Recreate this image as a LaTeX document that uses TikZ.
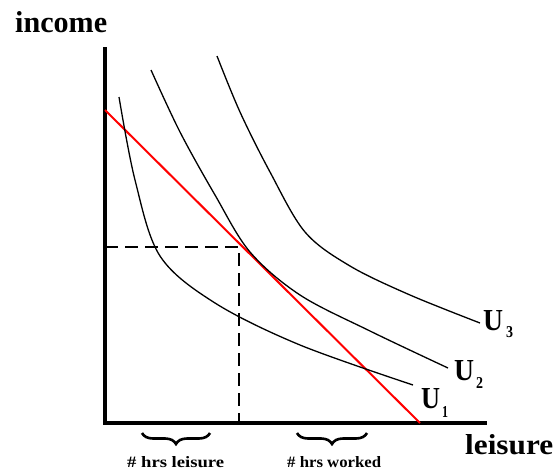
\documentclass[tikz,border=0pt]{standalone}
\usepackage{fontspec}
\setmainfont{Liberation Serif}
\usepackage{graphicx}
\usetikzlibrary{decorations.pathreplacing}
\tikzset{
  axisline/.style={line width=3.5pt, line join=miter},
  budget/.style={draw=red, line width=2pt},
  guide/.style={line width=1.4pt, dash pattern=on 13pt off 7pt},
  icurve/.style={line width=1.3pt, smooth, tension=0.55},
  lbl/.style={inner sep=0pt, anchor=base west},
  bracebox/.style={line width=2.6pt, decorate, decoration={brace, mirror, amplitude=11pt}}
}
\begin{document}
\begin{tikzpicture}[x=1pt, y=-1pt]
\useasboundingbox (0,0) rectangle (557,471);
% axes
\coordinate (top) at (105,47);
\coordinate (origin) at (105,423);
\coordinate (right) at (487,423);
\draw[axisline] (top) -- (origin) -- (right);
% budget line
\coordinate (b0) at (105,110);
\coordinate (b1) at (420,423);
\draw[budget] (b0) -- (b1);
% dashed guides
\coordinate (ey) at (105,247);
\coordinate (eq) at (239,247);
\coordinate (ex) at (239,423);
\draw[guide] (ey) -- (eq) -- (ex);
% indifference curves
\draw[icurve] plot coordinates {(119,97) (135,180) (160,256) (215,303) (300,345) (413,385)};
\draw[icurve] plot coordinates {(151,70) (180,132) (215,195) (250,252) (300,295) (370,331) (448,368)};
\draw[icurve] plot coordinates {(217,56) (240,112) (270,172) (305,232) (350,266) (410,295) (480,323)};
% labels
\node[lbl] (income) at (15,33) {\resizebox{92pt}{21pt}{\bfseries income}};
\node[lbl] (leisure) at (465,454) {\resizebox{88pt}{20pt}{\bfseries leisure}};
\node[lbl] (u3) at (483,330) {\resizebox{20pt}{20pt}{\bfseries U}};
\node[lbl] (u3s) at (506,337) {\resizebox{7pt}{11pt}{\bfseries 3}};
\node[lbl] (u2) at (454,380) {\resizebox{20pt}{20pt}{\bfseries U}};
\node[lbl] (u2s) at (476,388) {\resizebox{7pt}{11pt}{\bfseries 2}};
\node[lbl] (u1) at (421,408) {\resizebox{19pt}{20pt}{\bfseries U}};
\node[lbl] (u1s) at (442,417) {\resizebox{6pt}{11pt}{\bfseries 1}};
% braces
\coordinate (br1a) at (142,433);
\coordinate (br1b) at (210,433);
\coordinate (br2a) at (297,433);
\coordinate (br2b) at (367,433);
\draw[bracebox] (br1a) -- (br1b);
\draw[bracebox] (br2a) -- (br2b);
\node[lbl] (hl) at (127,467) {\resizebox{97pt}{11pt}{\bfseries \# hrs leisure}};
\node[lbl] (hw) at (287,467) {\resizebox{94pt}{11pt}{\bfseries \# hrs worked}};
\end{tikzpicture}
\end{document}
